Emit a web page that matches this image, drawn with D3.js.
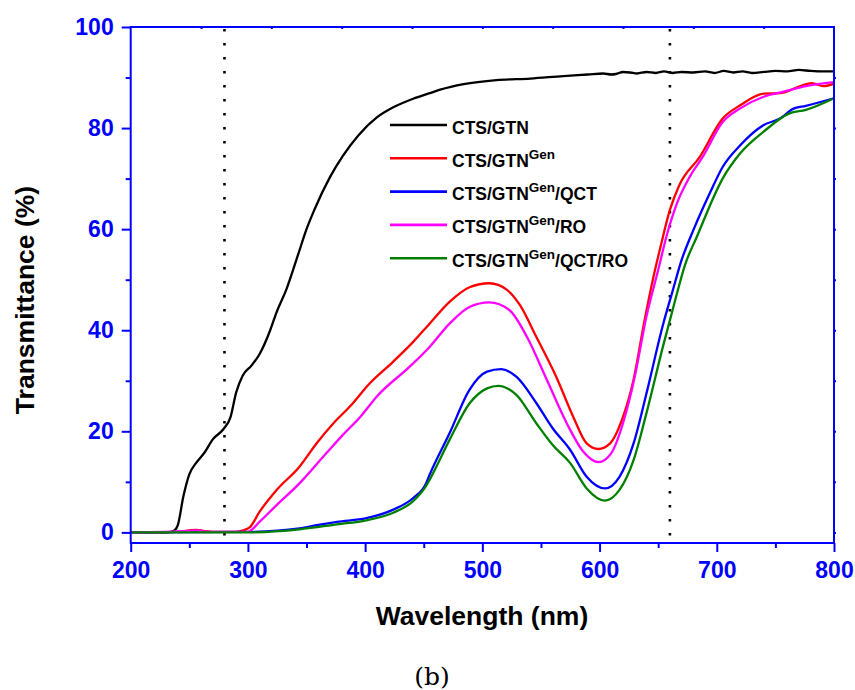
<!DOCTYPE html>
<html>
<head>
<meta charset="utf-8">
<script src="https://cdn.jsdelivr.net/npm/d3@7"></script>
<style>
  body { margin: 0; background: #fff; }
  svg { display: block; }
</style>
</head>
<body>
<script>
// series: [wavelength nm, transmittance %]
const ctsGtn = [[200,0],[230,0],[236,0.2],[240,1.3],[245,7.2],[250,11.5],[256,13.8],[263,15.8],[270,18.4],[279,20.4],
  [285,22.7],[290,27.7],[295.5,31],[303,33],[310,35.3],[319,40],[324.5,43.6],[333,48.2],[343,55.1],[350,60],[357,64],
  [370,70.3],[381,74.5],[394,78.5],[410,82.1],[424,84.1],[441,85.8],[455,86.9],[464,87.6],[484,88.7],[512,89.5],
  [541,89.8],[569,90.3],[590,90.6],[603,90.8],[610,90.6],[614,90.7],[620,91.1],[626,91.0],[632,90.8],[640,91.1],
  [648,90.9],[655,91.2],[662,90.9],[670,91.1],[680,91.0],[690,91.2],[698,90.9],[706,91.3],[714,91.0],[722,91.2],
  [730,90.9],[740,91.1],[750,91.3],[760,91.2],[770,91.5],[780,91.3],[790,91.2],[800,91.2]]
const ctsGtnGen = [[200,0],[240,0.1],[250,0.4],[256,0.5],[262,0.3],[270,0.1],[290,0.1],[296,0.4],[302,1.1],[310,4.1],
  [324.5,8.4],[344,13],[358.5,17.6],[373,21.6],[387,24.9],[404,29.5],[424,33.8],[441,37.7],[455,41.3],[472,45.6],
  [489,48.5],[506,49.3],[521,48],[532,45],[546,38.7],[563,30.8],[577.5,22.9],[589,17.6],[599,16.5],[609,17.6],
  [619,22.2],[629,30.2],[638,41.5],[646,50.6],[652,56.5],[660,63.8],[668,68.7],[685.5,74.3],[705,81.9],
  [720,84.5],[740,86.8],[754,86.9],[768,88],[781,88.9],[786,88.6],[791,88.3],[800,88.8]]
const ctsGtnGenQct = [[200,0],[300,0.1],[344,0.8],[360,1.5],[376,2.1],[401,2.8],[424,4.5],[441,6.8],[452,9.7],
  [455,11.4],[472,19.6],[489,28.2],[504,31.8],[516,32.3],[529,30.8],[546,25.6],[560,20.6],[575,16.3],[589,11],
  [604.5,8.7],[617,11],[629,17.6],[640,27.5],[654,41],[662,47.5],[670,53.9],[680,59.8],[694,67.1],
  [705,72.3],[720,76.6],[740,80.6],[754,81.9],[765,83.8],[776,84.4],[800,85.9]]
const ctsGtnGenRo = [[200,0],[250,0.3],[256,0.4],[262,0.2],[270,0.1],[300,0.1],[302,0.3],[310,2.1],[324.5,5.4],
  [344,9.7],[367,15.7],[381,19.3],[396,22.9],[410,26.9],[438,32.8],[455,36.7],[472,41.3],[489,44.6],[506,45.5],
  [523,44],[538,38.7],[555,30.2],[572,21.6],[586,16],[599,13.9],[610,15.7],[620,21.6],[630,30.8],[640,42.7],
  [650,51.9],[657,58.5],[666,65.1],[677,70.4],[688,74.3],[705,81.2],[720,83.9],[740,86.2],[757,87.2],
  [776,88.3],[800,89.1]]
const ctsGtnGenQctRo = [[200,0],[300,0],[344,0.6],[376,1.6],[401,2.4],[424,3.9],[441,6.2],[452,9.2],[455,10.4],
  [472,18.3],[489,25.5],[504,28.5],[513.5,29],[529,27.2],[546,21.6],[560,17.3],[575,13.7],[589,8.7],[604.5,6.3],
  [617,8.4],[629,14.3],[640,23.6],[654,36.7],[664,45.5],[673,53],[683,58.5],[705,70],[720,75],
  [740,79.3],[762,82.9],[776,83.6],[800,85.9]]

const seriesNames = ['CTS/GTN', 'CTS/GTN^Gen', 'CTS/GTN^Gen/QCT', 'CTS/GTN^Gen/RO', 'CTS/GTN^Gen/QCT/RO']
const seriesData = [ctsGtn, ctsGtnGen, ctsGtnGenQct, ctsGtnGenRo, ctsGtnGenQctRo]
const seriesColors = ['#000000', '#ff0000', '#0000ff', '#ff00ff', '#008000']

const xTicks = [200, 300, 400, 500, 600, 700, 800]
const yTicks = [0, 20, 40, 60, 80, 100]
const markerLines = [280, 660]

const width = 855, height = 690
const axisBlue = '#0000ff'
const font = 'Liberation Sans, Arial, sans-serif'

let svg = d3.select('body').append('svg')
  .attr('width', width)
  .attr('height', height)

let x = d3.scaleLinear().domain([200, 800]).range([130.7, 834])
let y = d3.scaleLinear().domain([-2.1, 100]).range([543, 27])

// marker lines
svg.append('g').selectAll('line')
  .data(markerLines)
  .join('line')
    .attr('x1', d => x(d)).attr('x2', d => x(d))
    .attr('y1', y(100) + 2).attr('y2', y(-2.1))
    .attr('stroke', '#000')
    .attr('stroke-width', 2.6)
    .attr('stroke-dasharray', '2.4,11.6')

// curves
let line = d3.line().x(d => x(d[0])).y(d => y(d[1])).curve(d3.curveMonotoneX)
svg.append('g').selectAll('path')
  .data(seriesData)
  .join('path')
    .attr('d', line)
    .attr('fill', 'none')
    .attr('stroke', (d, i) => seriesColors[i])
    .attr('stroke-width', 2.3)
    .attr('stroke-linejoin', 'round')

// axes
function styleAxis(g) {
  g.selectAll('.domain').remove()
  g.selectAll('line').attr('stroke', axisBlue).attr('stroke-width', 2)
  g.selectAll('text').attr('fill', axisBlue).attr('font-family', font)
    .attr('font-weight', 'bold').attr('font-size', 23)
}

let xAxis = svg.append('g').attr('transform', `translate(0,${y(-2.1)})`)
  .call(d3.axisBottom(x).tickValues(xTicks).tickSize(9).tickPadding(10).tickFormat(d3.format('d')))
  .call(styleAxis)
svg.append('g').attr('transform', `translate(0,${y(-2.1)})`)
  .call(d3.axisBottom(x).tickValues(d3.range(250, 800, 100)).tickSize(5).tickFormat(''))
  .call(styleAxis)

let yAxis = svg.append('g').attr('transform', `translate(${x(200)},0)`)
  .call(d3.axisLeft(y).tickValues(yTicks).tickSize(9).tickPadding(8).tickFormat(d3.format('d')))
  .call(styleAxis)
svg.append('g').attr('transform', `translate(${x(200)},0)`)
  .call(d3.axisLeft(y).tickValues(d3.range(10, 100, 20)).tickSize(5).tickFormat(''))
  .call(styleAxis)

// tiny ticks on the top and right of the frame
svg.append('g').attr('transform', `translate(0,${y(100)})`)
  .call(d3.axisTop(x).tickValues(d3.range(260, 800, 60)).tickSizeInner(-2).tickSizeOuter(0).tickFormat(''))
  .call(styleAxis)
svg.append('g').attr('transform', `translate(${x(800)},0)`)
  .call(d3.axisRight(y).tickValues(d3.range(0, 100, 10)).tickSizeInner(2).tickSizeOuter(0).tickFormat(''))
  .call(styleAxis)

// frame
svg.append('rect')
  .attr('x', x(200)).attr('y', y(100))
  .attr('width', x(800) - x(200)).attr('height', y(-2.1) - y(100))
  .attr('fill', 'none')
  .attr('stroke', axisBlue)
  .attr('stroke-width', 2)

// axis titles
svg.append('text')
  .attr('x', 482).attr('y', 625)
  .attr('text-anchor', 'middle')
  .attr('font-family', font).attr('font-weight', 'bold').attr('font-size', 26.5)
  .text('Wavelength (nm)')

svg.append('text')
  .attr('transform', 'translate(34,300) rotate(-90)')
  .attr('text-anchor', 'middle')
  .attr('font-family', font).attr('font-weight', 'bold').attr('font-size', 26.5)
  .text('Transmittance (%)')

// legend
let legend = svg.append('g').attr('transform', 'translate(390,125)')
let rows = legend.selectAll('g')
  .data(seriesNames)
  .join('g')
    .attr('transform', (d, i) => `translate(0,${i * 33.3})`)
rows.append('line')
  .attr('x1', 0).attr('x2', 57)
  .attr('stroke', (d, i) => seriesColors[i])
  .attr('stroke-width', 2.6)
rows.append('text')
  .attr('x', 62).attr('y', 8.5)
  .attr('font-family', font).attr('font-weight', 'bold').attr('font-size', 17.5)
  .each(function(d) {
    let t = d3.select(this)
    let parts = d.split('^')
    t.append('tspan').text(parts[0])
    if (parts.length > 1) {
      let sup = parts[1].split('/')
      t.append('tspan').attr('dy', -8).attr('font-size', 13.5).text(sup[0])
      let rest = sup.slice(1).join('/')
      if (rest) t.append('tspan').attr('dy', 8).text('/' + rest)
    }
  })

// panel letter
svg.append('text')
  .attr('x', 432).attr('y', 685)
  .attr('text-anchor', 'middle')
  .attr('font-family', 'DejaVu Serif, serif').attr('font-size', 25)
  .text('(b)')
</script>
</body>
</html>
